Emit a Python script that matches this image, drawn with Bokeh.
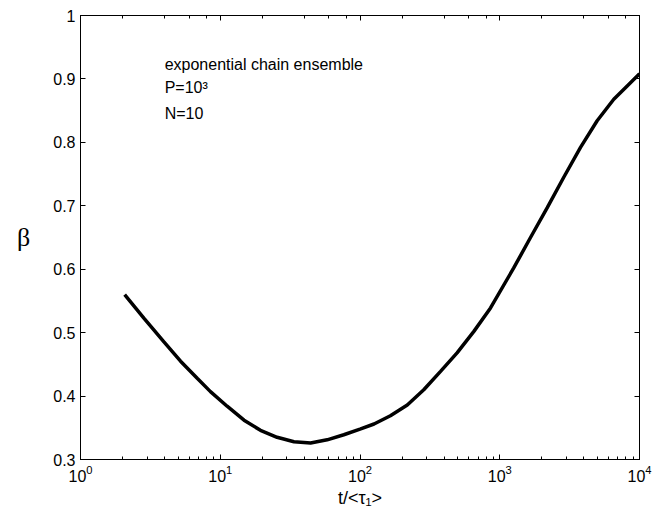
from bokeh.plotting import figure
from bokeh.models import (LogAxis, LinearAxis, FixedTicker, LogTicker, Label, Range1d,
                          CustomJSTickFormatter)
from bokeh.embed import file_html
from bokeh.resources import INLINE

# ---- data ----
t_values = [2.07, 2.84, 3.94, 5.2, 6.84, 8.51, 11.2, 14.8, 19.4, 25.5, 33.7, 44.3,
            58.2, 76.6, 100, 126, 165, 218, 286, 377, 495, 653, 859, 1259, 1660,
            2188, 2871, 3784, 4977, 6546, 8166, 10000]
beta_values = [0.560, 0.523, 0.486, 0.455, 0.428, 0.407, 0.384, 0.362, 0.346, 0.335,
               0.328, 0.326, 0.331, 0.339, 0.348, 0.356, 0.369, 0.386, 0.410, 0.439,
               0.468, 0.502, 0.539, 0.602, 0.650, 0.697, 0.745, 0.792, 0.834, 0.868,
               0.889, 0.908]
yticks = [0.3, 0.4, 0.5, 0.6, 0.7, 0.8, 0.9, 1.0]
ytick_labels = ["0.3", "0.4", "0.5", "0.6", "0.7", "0.8", "0.9", "1"]
annotation_lines = ["exponential chain ensemble", "P=10\u00b3", "N=10"]
x_title = "t/<\u03c4\u2081>"
y_title = "\u03b2"

FONT = "Liberation Sans"

p = figure(width=653, height=515, x_axis_type="log",
           x_range=Range1d(1, 1e4), y_range=Range1d(0.3, 1.0),
           output_backend="svg", toolbar_location=None,
           min_border_left=80, min_border_right=14,
           min_border_top=15, min_border_bottom=56)
p.xgrid.visible = False
p.ygrid.visible = False
p.background_fill_color = "white"
p.border_fill_color = "white"
p.outline_line_color = "black"
p.outline_line_width = 1

p.line(t_values, beta_values, line_color="black", line_width=3.5)

def style_axis(ax, show_labels=True):
    ax.axis_line_color = "black"
    ax.major_tick_line_color = "black"
    ax.minor_tick_line_color = "black"
    ax.major_tick_in = 5
    ax.major_tick_out = 0
    ax.minor_tick_in = 3
    ax.minor_tick_out = 0
    ax.major_label_text_color = "black"
    ax.major_label_text_font = FONT
    if show_labels:
        ax.major_label_text_font_size = "16px"
    else:
        ax.major_label_text_font_size = "6px"
        ax.major_label_text_alpha = 0.0
        ax.major_label_standoff = 0

xa = p.xaxis[0]
style_axis(xa)
xa.major_label_standoff = 5
xa.axis_label = x_title
xa.axis_label_text_font = FONT
xa.axis_label_text_font_size = "18px"
xa.axis_label_text_font_style = "normal"
xa.axis_label_text_color = "black"
xa.axis_label_standoff = 3

ya = p.yaxis[0]
ya.ticker = FixedTicker(ticks=yticks)
ya.formatter = CustomJSTickFormatter(
    args=dict(vals=yticks, labs=ytick_labels),
    code="""
    for (let i = 0; i < vals.length; i++) {
        if (Math.abs(vals[i] - tick) < 1e-6) { return labs[i]; }
    }
    return tick.toFixed(1);
    """)
style_axis(ya)
ya.minor_tick_in = 0
ya.major_label_standoff = 5
ya.axis_label = y_title
ya.axis_label_text_font = "Liberation Serif"
ya.axis_label_text_font_size = "26px"
ya.axis_label_text_font_style = "normal"
ya.axis_label_text_color = "black"
ya.axis_label_standoff = 20
if "axis_label_orientation" in ya.properties():
    ya.axis_label_orientation = "horizontal"

top = LogAxis(ticker=LogTicker())
style_axis(top, show_labels=False)
p.add_layout(top, "above")

right = LinearAxis(ticker=FixedTicker(ticks=yticks))
style_axis(right, show_labels=False)
right.minor_tick_in = 0
p.add_layout(right, "right")

# in-plot annotation
for txt, yy in zip(annotation_lines, [0.923, 0.886, 0.845]):
    p.add_layout(Label(x=4.0, y=yy, text=txt, text_font=FONT, text_font_size="16px",
                       text_color="black", text_baseline="alphabetic", text_align="left"))

open("out.html", "w").write(file_html(p, INLINE))
